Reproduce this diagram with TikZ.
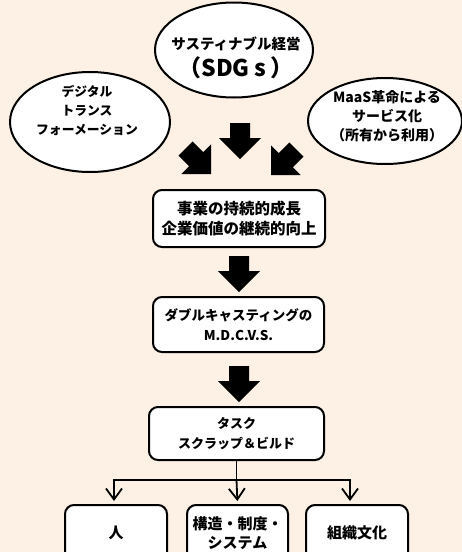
\documentclass[tikz,border=0pt]{standalone}
\usepackage{fontspec}
\setmainfont{Noto Sans CJK JP}[BoldFont={* Black}]
\usetikzlibrary{shapes.geometric,arrows.meta}
\definecolor{bg}{RGB}{253,240,228}
\tikzset{
  oval/.style={ellipse, draw, line width=2pt, fill=white, inner sep=0pt},
  lbl/.style={align=center, font=\bfseries, inner sep=0pt},
  box/.style={draw, line width=2pt, rounded corners=9pt, fill=white, align=center, inner sep=0pt},
  link/.style={line width=1.8pt, -{Straight Barb[length=11pt,width=16pt,line width=1.8pt]}},
  barrow/.pic={\fill (0,0) -- (-21,-21) -- (-10,-21) -- (-10,-36) -- (10,-36) -- (10,-21) -- (21,-21) -- cycle;}
}
\begin{document}
\begin{tikzpicture}[x=1pt,y=-1pt]
\useasboundingbox (0,0) rectangle (462,552);
\clip (0,0) rectangle (462,552);
\fill[bg] (0,0) rectangle (462,552);

% ellipses
\node[oval, minimum width=158pt, minimum height=95pt] (sdg) at (234,50) {};
\node[lbl, font=\bfseries\fontsize{14.5}{27}\selectfont] (sdgt) at (236,58) {サスティナブル経営\\{\fontsize{23}{23}\selectfont （SDG s\,）}};
\node[oval, minimum width=160pt, minimum height=100pt] (dx) at (90,122) {};
\node[lbl, font=\bfseries\fontsize{12.8}{19}\selectfont] (dxt) at (87,110) {デジタル\\トランス\\フォーメーション};
\node[oval, minimum width=154pt, minimum height=86pt] (maas) at (385,121) {};
\node[lbl, font=\bfseries\fontsize{14}{19}\selectfont] (maast) at (387,116) {MaaS革命による\\サービス化\\（所有から利用）};

% block arrows
\pic at (240,159) {barrow};
\pic[rotate=45] at (211,174) {barrow};
\pic[rotate=-45] at (271,175) {barrow};

% boxes
\node[box, minimum width=172pt, minimum height=57pt, font=\bfseries\fontsize{15.5}{20}\selectfont] (b1) at (239,218.5) {事業の持続的成長\\企業価値の継続的向上};
\pic at (239,292) {barrow};
\node[box, minimum width=171pt, minimum height=55pt, font=\bfseries\fontsize{13.5}{20}\selectfont] (b2) at (238.5,324.5) {ダブルキャスティングの\\M.D.C.V.S.};
\pic at (239,402) {barrow};
\node[box, minimum width=175pt, minimum height=53pt, font=\bfseries\fontsize{13}{20}\selectfont] (b3) at (236.5,433.5) {タスク\\スクラップ＆ビルド};

% bottom boxes
\node[box, minimum width=102pt, minimum height=56pt, font=\bfseries\fontsize{15}{19}\selectfont] (p) at (116,533) {人};
\node[box, minimum width=101pt, minimum height=56pt, font=\bfseries\fontsize{15}{19}\selectfont] (s) at (237.5,533) {構造・制度・\\システム};
\node[box, minimum width=102pt, minimum height=56pt, font=\bfseries\fontsize{15}{19}\selectfont] (c) at (357,533) {組織文化};

% connectors
\draw[line width=1.8pt] (b3.south) -- ++(0,19) coordinate (j);
\coordinate (cl) at ([xshift=-7pt]c.north);
\coordinate (pl) at ([xshift=-2pt]p.north);
\draw[link, shorten >=3pt] (j) -- (s.north);
\draw[link, shorten >=3pt] (j) -| (pl);
\draw[link, shorten >=3pt] (j) -| (cl);
\end{tikzpicture}
\end{document}
